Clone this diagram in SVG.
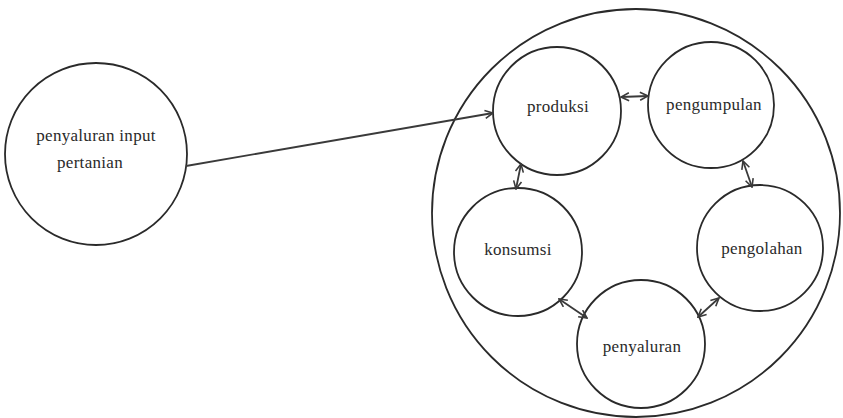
<svg xmlns="http://www.w3.org/2000/svg" width="843" height="418" viewBox="0 0 843 418">
<style>
.c{fill:none;stroke:#2a2a2a;stroke-width:1.8}
.t{font-family:"Liberation Serif","Times New Roman",serif;font-size:17px;fill:#2a2a2a;text-anchor:middle;letter-spacing:0.3px}
.l{fill:none;stroke:#3a3a3a;stroke-width:1.8}
</style>
<defs>
<marker id="a" viewBox="0 0 10 10" refX="9" refY="5" markerWidth="10" markerHeight="10" markerUnits="userSpaceOnUse" orient="auto-start-reverse">
<path d="M1,1 L9,5 L1,9" fill="none" stroke="#3a3a3a" stroke-width="1.6"/>
</marker>
</defs>
<rect width="843" height="418" fill="#fff"/>
<g id="input">
<circle class="c" cx="96" cy="154" r="91"/>
<text class="t" x="96" y="141">penyaluran input</text>
<text class="t" x="90" y="168">pertanian</text>
</g>
<g id="system">
<circle class="c" cx="636" cy="213" r="204"/>
</g>
<g id="produksi">
<circle class="c" cx="557" cy="111" r="64"/>
<text class="t" x="558" y="112">produksi</text>
</g>
<g id="pengumpulan">
<circle class="c" cx="711" cy="105" r="63"/>
<text class="t" x="714" y="110">pengumpulan</text>
</g>
<g id="pengolahan">
<circle class="c" cx="760" cy="248" r="63"/>
<text class="t" x="762" y="254">pengolahan</text>
</g>
<g id="penyaluran">
<circle class="c" cx="641" cy="344" r="64"/>
<text class="t" x="642" y="352">penyaluran</text>
</g>
<g id="konsumsi">
<circle class="c" cx="518" cy="252" r="64"/>
<text class="t" x="518" y="255">konsumsi</text>
</g>
<g id="connectors">
<line class="l" x1="186" y1="166" x2="493" y2="113" marker-end="url(#a)"/>
<line class="l" x1="621" y1="97" x2="648" y2="96" marker-start="url(#a)" marker-end="url(#a)"/>
<line class="l" x1="521" y1="164" x2="516" y2="189" marker-start="url(#a)" marker-end="url(#a)"/>
<line class="l" x1="743" y1="161" x2="752" y2="187" marker-start="url(#a)" marker-end="url(#a)"/>
<line class="l" x1="559" y1="299" x2="587" y2="318" marker-start="url(#a)" marker-end="url(#a)"/>
<line class="l" x1="698" y1="317" x2="719" y2="298" marker-start="url(#a)" marker-end="url(#a)"/>
</g>
</svg>
